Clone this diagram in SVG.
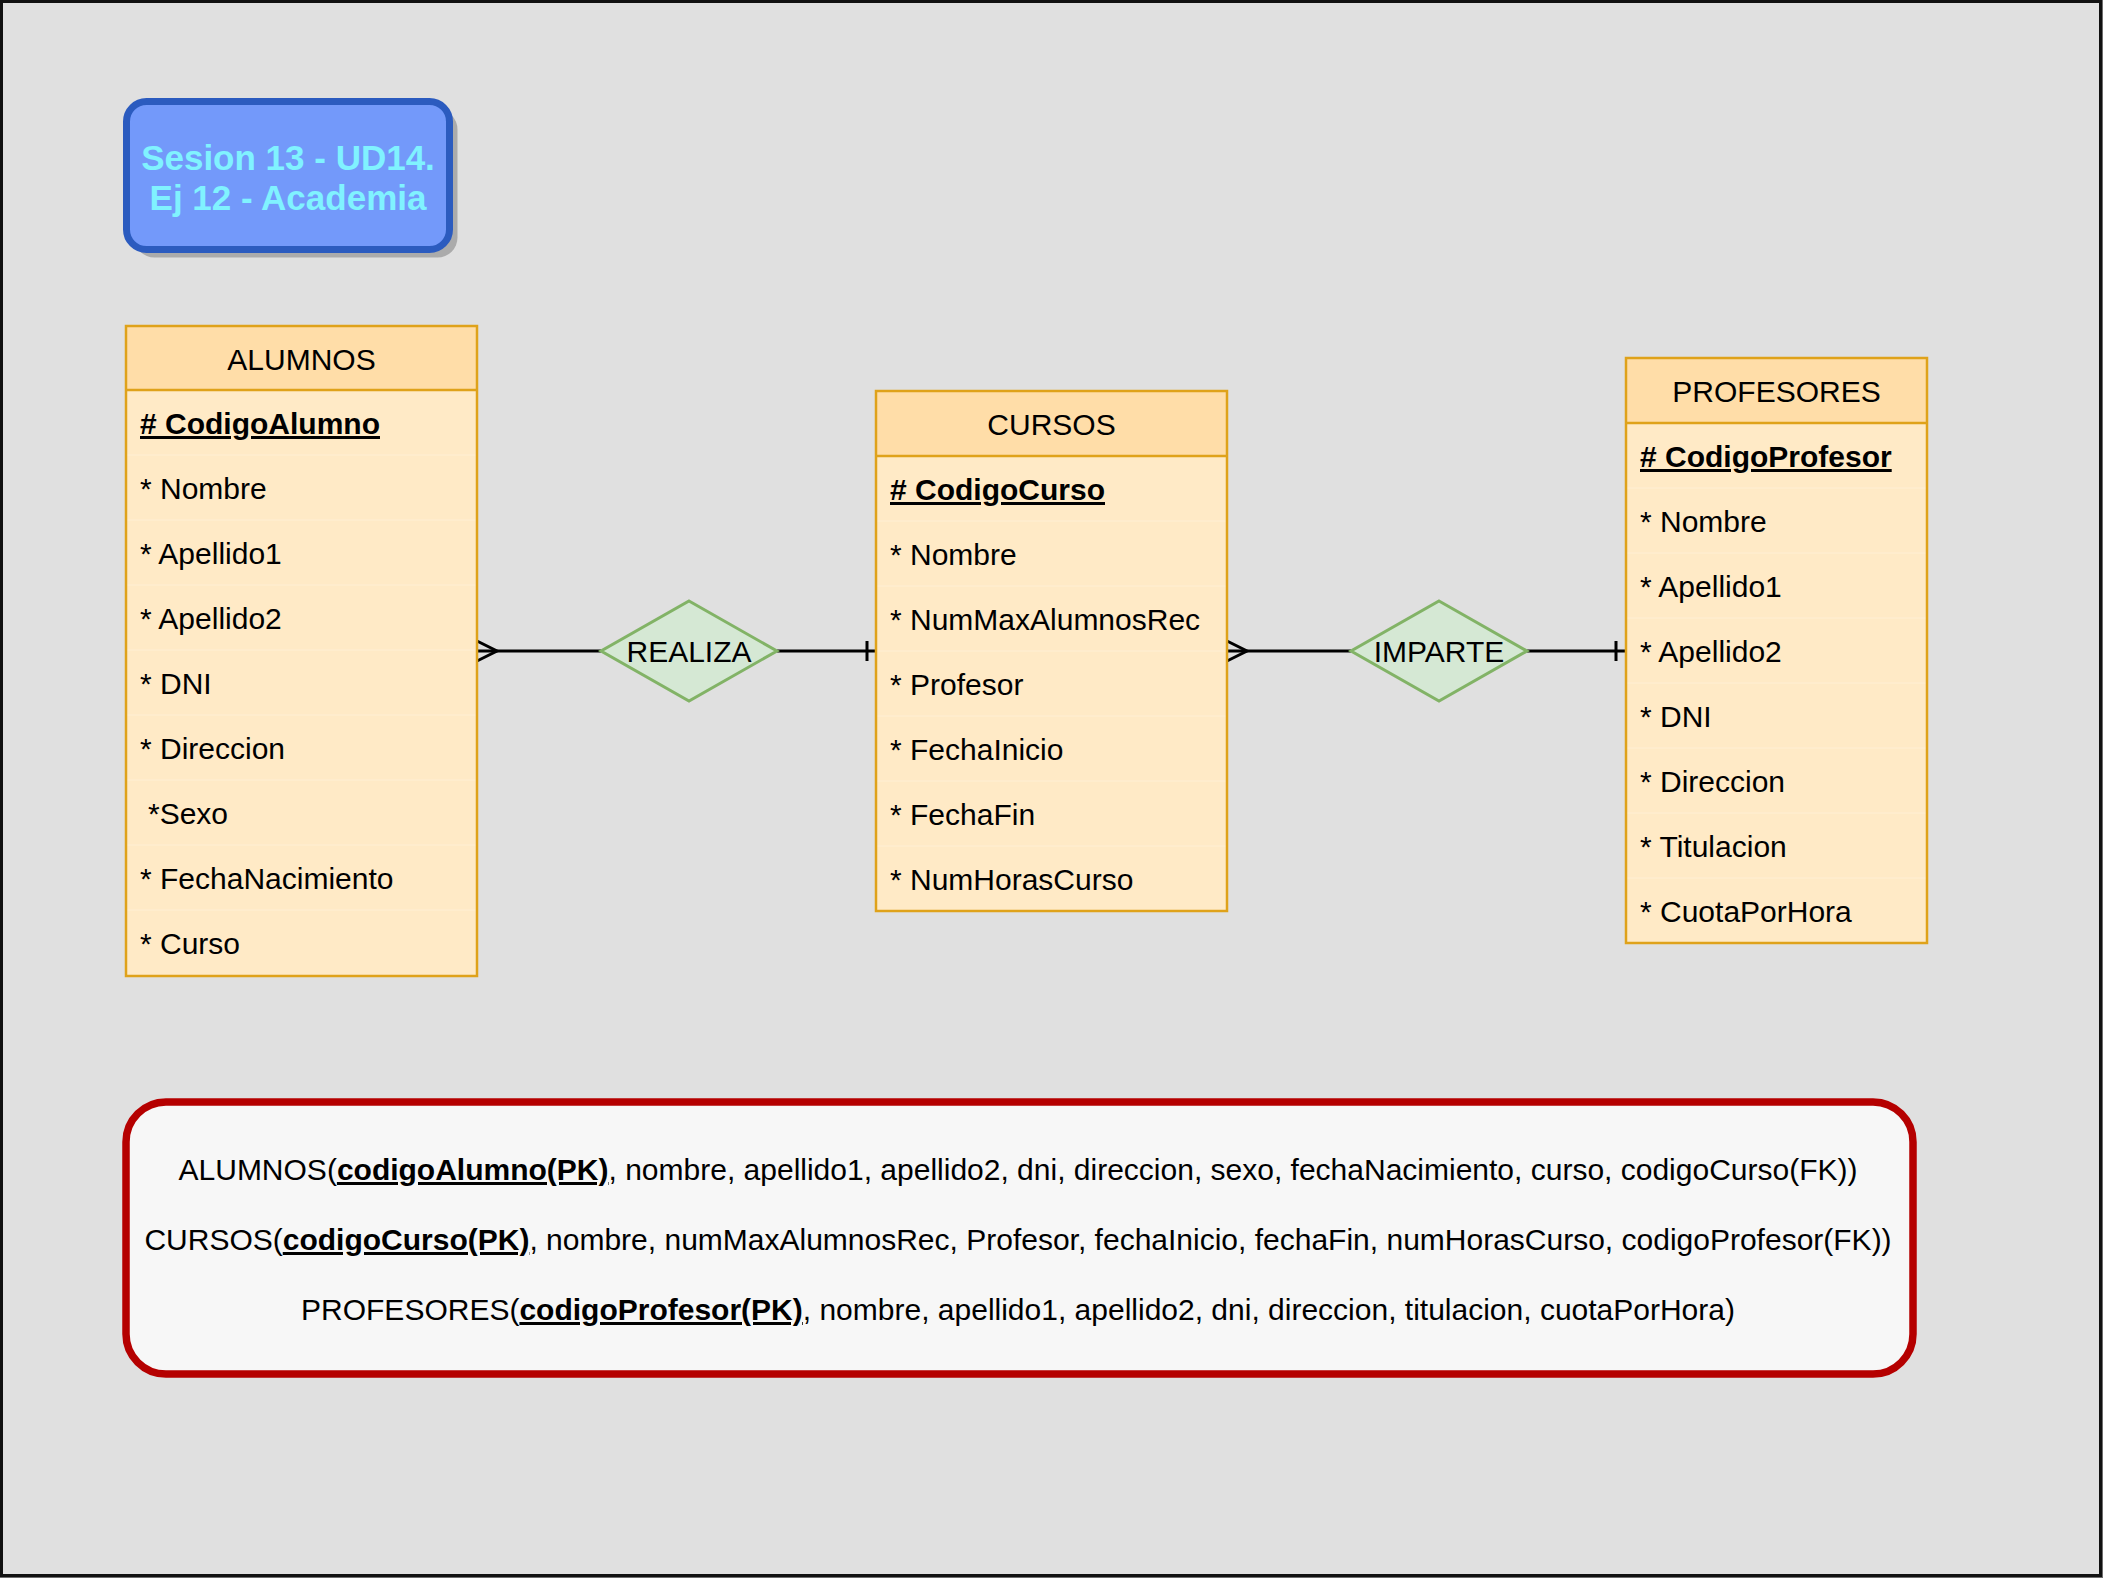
<svg xmlns="http://www.w3.org/2000/svg" width="2103" height="1578" viewBox="0 0 2103 1578">
  <defs>
    <style>
      text { font-family: "Liberation Sans", Arial, sans-serif; fill: #000; }
      .tbl-body { fill: #FFEAC6; }
      .tbl-head { fill: #FFDDA8; }
      .tbl-line { stroke: #DFA21A; stroke-width: 2.5; fill: none; }
      .row-sep { stroke: #FFEFD4; stroke-width: 1; }
      .head-txt { font-size: 30px; text-anchor: middle; }
      .attr { font-size: 30px; }
      .pk { font-weight: bold; text-decoration: underline; }
      .rel { fill: #D5E8D4; stroke: #82B366; stroke-width: 3; }
      .rel-txt { font-size: 30px; text-anchor: middle; }
      .conn { stroke: #000; stroke-width: 3; fill: none; }
      .schema { font-size: 30px; text-anchor: middle; }
    </style>
  </defs>

  <!-- page -->
  <rect x="0" y="0" width="2103" height="1578" fill="#6E6E6E"/>
  <rect x="1.5" y="1.5" width="2099" height="1574" fill="#E0E0E0" stroke="#111" stroke-width="3"/>

  <!-- title card -->
  <g id="title">
    <rect x="134.5" y="109.5" width="323" height="148" rx="20" fill="#ABABAB"/>
    <rect x="126.5" y="101.5" width="323" height="148" rx="20" fill="#7399FA" stroke="#2B5BBF" stroke-width="7"/>
    <text x="288" y="170" font-size="35" font-weight="bold" text-anchor="middle" style="fill:#80F2FF">Sesion 13 - UD14.</text>
    <text x="288" y="210" font-size="35" font-weight="bold" text-anchor="middle" style="fill:#80F2FF">Ej 12 - Academia</text>
  </g>

  <!-- connectors -->
  <g id="connectors">
    <!-- ALUMNOS (many) - REALIZA - CURSOS (one) -->
    <path class="conn" d="M477 651 H601"/>
    <path class="conn" d="M477 641 L497 651 L477 661"/>
    <path class="conn" d="M777 651 H876"/>
    <path class="conn" d="M867 641 V661"/>
    <!-- CURSOS (many) - IMPARTE - PROFESORES (one) -->
    <path class="conn" d="M1227 651 H1351"/>
    <path class="conn" d="M1227 641 L1247 651 L1227 661"/>
    <path class="conn" d="M1527 651 H1626"/>
    <path class="conn" d="M1616 641 V661"/>
  </g>

  <!-- ALUMNOS -->
  <g id="alumnos">
    <rect class="tbl-body" x="126" y="326" width="351" height="650"/>
    <rect class="tbl-head" x="126" y="326" width="351" height="64"/>
    <path class="row-sep" d="M127 455 H476 M127 520 H476 M127 585 H476 M127 650 H476 M127 715 H476 M127 780 H476 M127 845 H476 M127 910 H476"/>
    <rect class="tbl-line" x="126" y="326" width="351" height="650"/>
    <path class="tbl-line" d="M126 390 H477"/>
    <text class="head-txt" x="301.5" y="370">ALUMNOS</text>
    <text class="attr pk" x="140" y="434"># CodigoAlumno</text>
    <text class="attr" x="140" y="499">* Nombre</text>
    <text class="attr" x="140" y="564">* Apellido1</text>
    <text class="attr" x="140" y="629">* Apellido2</text>
    <text class="attr" x="140" y="694">* DNI</text>
    <text class="attr" x="140" y="759">* Direccion</text>
    <text class="attr" x="148" y="824">*Sexo</text>
    <text class="attr" x="140" y="889">* FechaNacimiento</text>
    <text class="attr" x="140" y="954">* Curso</text>
  </g>

  <!-- REALIZA -->
  <g id="realiza">
    <path class="rel" d="M689 601 L777 651 L689 701 L601 651 Z"/>
    <text class="rel-txt" x="689" y="662">REALIZA</text>
  </g>

  <!-- CURSOS -->
  <g id="cursos">
    <rect class="tbl-body" x="876" y="391" width="351" height="520"/>
    <rect class="tbl-head" x="876" y="391" width="351" height="65"/>
    <path class="row-sep" d="M877 521 H1226 M877 586 H1226 M877 651 H1226 M877 716 H1226 M877 781 H1226 M877 846 H1226"/>
    <rect class="tbl-line" x="876" y="391" width="351" height="520"/>
    <path class="tbl-line" d="M876 456 H1227"/>
    <text class="head-txt" x="1051.5" y="435">CURSOS</text>
    <text class="attr pk" x="890" y="500"># CodigoCurso</text>
    <text class="attr" x="890" y="565">* Nombre</text>
    <text class="attr" x="890" y="630">* NumMaxAlumnosRec</text>
    <text class="attr" x="890" y="695">* Profesor</text>
    <text class="attr" x="890" y="760">* FechaInicio</text>
    <text class="attr" x="890" y="825">* FechaFin</text>
    <text class="attr" x="890" y="890">* NumHorasCurso</text>
  </g>

  <!-- IMPARTE -->
  <g id="imparte">
    <path class="rel" d="M1439 601 L1527 651 L1439 701 L1351 651 Z"/>
    <text class="rel-txt" x="1439" y="662">IMPARTE</text>
  </g>

  <!-- PROFESORES -->
  <g id="profesores">
    <rect class="tbl-body" x="1626" y="358" width="301" height="585"/>
    <rect class="tbl-head" x="1626" y="358" width="301" height="65"/>
    <path class="row-sep" d="M1627 488 H1926 M1627 553 H1926 M1627 618 H1926 M1627 683 H1926 M1627 748 H1926 M1627 813 H1926 M1627 878 H1926"/>
    <rect class="tbl-line" x="1626" y="358" width="301" height="585"/>
    <path class="tbl-line" d="M1626 423 H1927"/>
    <text class="head-txt" x="1776.5" y="402">PROFESORES</text>
    <text class="attr pk" x="1640" y="467"># CodigoProfesor</text>
    <text class="attr" x="1640" y="532">* Nombre</text>
    <text class="attr" x="1640" y="597">* Apellido1</text>
    <text class="attr" x="1640" y="662">* Apellido2</text>
    <text class="attr" x="1640" y="727">* DNI</text>
    <text class="attr" x="1640" y="792">* Direccion</text>
    <text class="attr" x="1640" y="857">* Titulacion</text>
    <text class="attr" x="1640" y="922">* CuotaPorHora</text>
  </g>

  <!-- relational schema -->
  <g id="schema">
    <rect x="126" y="1102" width="1787" height="272" rx="40" fill="#F7F7F7" stroke="#B50000" stroke-width="7.5"/>
    <text class="schema" x="1018" y="1180">ALUMNOS(<tspan class="pk">codigoAlumno(PK)</tspan>, nombre, apellido1, apellido2, dni, direccion, sexo, fechaNacimiento, curso, codigoCurso(FK))</text>
    <text class="schema" x="1018" y="1250">CURSOS(<tspan class="pk">codigoCurso(PK)</tspan>, nombre, numMaxAlumnosRec, Profesor, fechaInicio, fechaFin, numHorasCurso, codigoProfesor(FK))</text>
    <text class="schema" x="1018" y="1320">PROFESORES(<tspan class="pk">codigoProfesor(PK)</tspan>, nombre, apellido1, apellido2, dni, direccion, titulacion, cuotaPorHora)</text>
  </g>
</svg>
